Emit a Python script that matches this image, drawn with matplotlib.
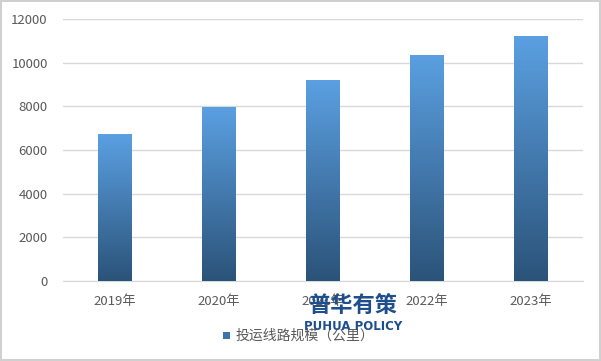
import numpy as np
import matplotlib
matplotlib.use('Agg')
import matplotlib.pyplot as plt
from matplotlib.colors import LinearSegmentedColormap
from matplotlib.patches import Rectangle

plt.rcParams['font.family'] = ['Noto Sans CJK SC', 'DejaVu Sans']

# data
years = ['2019年', '2020年', '2021年', '2022年', '2023年']
values = [6730, 7970, 9210, 10360, 11230]
y_ticks = [0, 2000, 4000, 6000, 8000, 10000, 12000]
series_name = '投运线路规模（公里）'

TOP_C = '#5ba0e2'
BOT_C = '#2b5379'
GRID_C = '#d9d9d9'
TEXT_C = '#595959'

grad = LinearSegmentedColormap.from_list('bar_grad', [BOT_C, TOP_C])

fig = plt.figure(figsize=(6.01, 3.61), dpi=100)
fig.patch.set_edgecolor('#d0d0d0')
fig.patch.set_linewidth(1.5)
ax = fig.add_axes([63 / 601, 1 - 281 / 361, 520 / 601, 262 / 361])

x = np.arange(len(years))
bars = ax.bar(x, values, width=0.32, color='none', zorder=3)

# vertical gradient in each bar, dark at the base, light at the top
g = np.linspace(0, 1, 256).reshape(-1, 1)
for b in bars:
    x0, w, h = b.get_x(), b.get_width(), b.get_height()
    im = ax.imshow(g, cmap=grad, vmin=0, vmax=1, origin='lower', aspect='auto',
                   extent=[x0, x0 + w, 0, h], zorder=3)
    im.set_clip_path(b)
ax.set_xlim(-0.5, len(years) - 0.5)
ax.set_ylim(0, 12000)

ax.set_yticks(y_ticks)
ax.yaxis.grid(True, color=GRID_C, linewidth=1)
ax.set_axisbelow(True)
for s in ['top', 'right', 'left']:
    ax.spines[s].set_visible(False)
ax.spines['bottom'].set_color(GRID_C)
ax.set_xticks(x)
ax.set_xticklabels(years)
ax.tick_params(axis='both', length=0, labelsize=9.5, colors=TEXT_C)
ax.tick_params(axis='x', pad=10)
ax.tick_params(axis='y', pad=11)

# legend
fig.patches.append(Rectangle((223 / 601, 1 - 339 / 361), 7 / 601, 7 / 361,
                             transform=fig.transFigure, facecolor='#3f74a8',
                             edgecolor='none'))
fig.text(236 / 601, 1 - 336 / 361, series_name, fontsize=10, color=TEXT_C,
         va='center', ha='left')

# watermark
fig.text(353 / 601, 1 - 305 / 361, '普华有策', fontsize=16, fontweight='bold',
         color='#1e4f8c', ha='center', va='center')
fig.text(353 / 601, 1 - 327 / 361, 'PUHUA POLICY', fontsize=8.5,
         fontweight='bold', color='#1e4f8c', ha='center', va='center',
         family=['DejaVu Sans'])

fig.savefig('out.png', dpi=100)
